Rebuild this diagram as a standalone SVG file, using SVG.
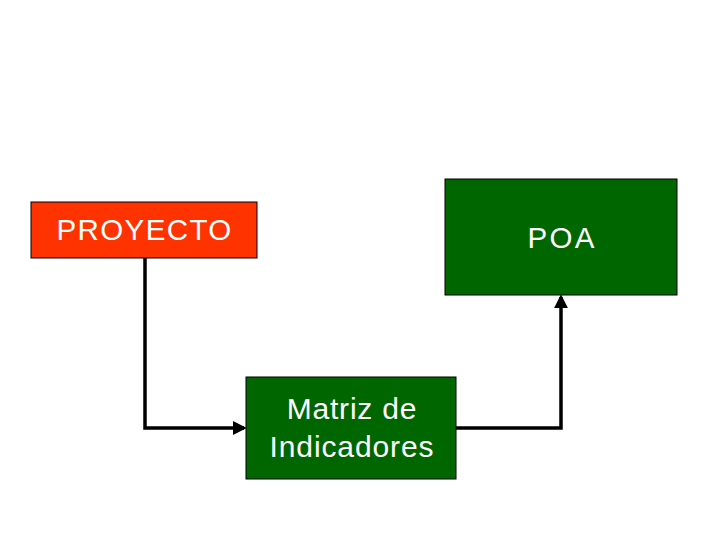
<svg xmlns="http://www.w3.org/2000/svg" width="720" height="540" viewBox="0 0 720 540">
<style>
.box{stroke:#000;stroke-width:1}
.t{font-family:"Liberation Sans",Arial,sans-serif;fill:#fff;text-anchor:middle}
.c{fill:none;stroke:#000;stroke-width:3.5}
</style>
<defs>
<marker id="ah" markerWidth="4" markerHeight="4" refX="3.2" refY="2" orient="auto" markerUnits="strokeWidth">
<path d="M0,0 L4,2 L0,4 z" fill="#000"/>
</marker>
</defs>
<rect width="720" height="540" fill="#fff"/>
<g id="connectors">
<path class="c" d="M145,258 V428 H244" marker-end="url(#ah)"/>
<path class="c" d="M456,428 H561 V297" marker-end="url(#ah)"/>
</g>
<g id="proyecto">
<rect class="box" x="31" y="202" width="226" height="56" fill="#ff3300"/>
<text class="t" x="144.6" y="240" font-size="29.5" letter-spacing="1.4">PROYECTO</text>
</g>
<g id="poa">
<rect class="box" x="445" y="179" width="232" height="116" fill="#006600"/>
<text class="t" x="562.2" y="248" font-size="29.5" letter-spacing="2.4">POA</text>
</g>
<g id="matriz">
<rect class="box" x="246" y="377" width="210" height="102" fill="#006600"/>
<text class="t" x="352" y="419" font-size="30" letter-spacing="0.8">Matriz de</text>
<text class="t" x="352" y="457" font-size="30" letter-spacing="0.9">Indicadores</text>
</g>
</svg>
